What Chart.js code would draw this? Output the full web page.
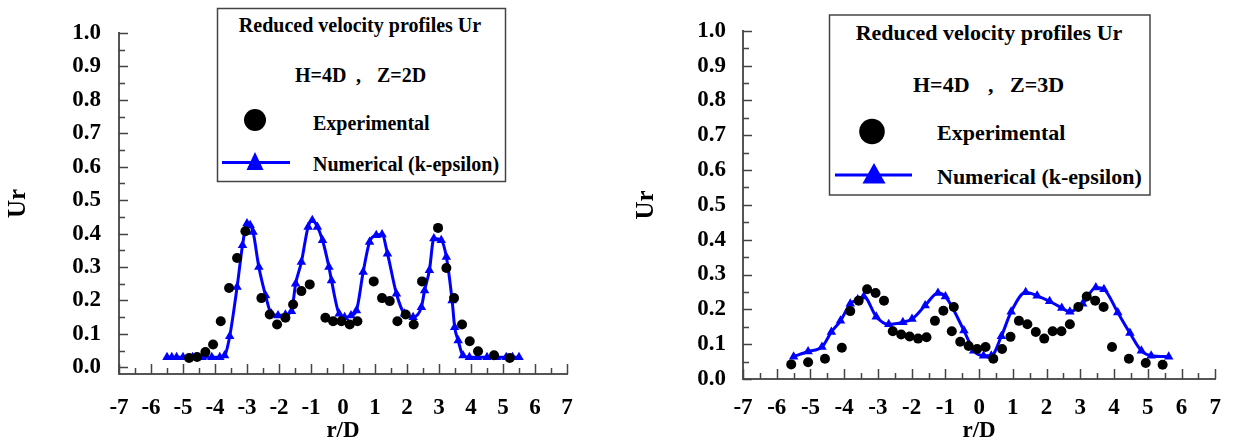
<!DOCTYPE html>
<html lang="en">
<head>
  <meta charset="UTF-8" />
  <title>Reduced velocity profiles Ur</title>
  <script src="https://cdn.jsdelivr.net/npm/chart.js"></script>
  <style>
    body { margin: 0; background: #fff; }
    .wrap { position: relative; width: 1236px; height: 443px; }
    canvas { position: absolute; top: 0; }
    #chartLeft { left: 0; }
    #chartRight { left: 618px; }
    svg.legend { position: absolute; left: 0; top: 0; pointer-events: none; }
    svg.legend text { font-family: 'Liberation Serif', 'Times New Roman', serif; font-weight: bold; fill: #000; }
  </style>
</head>
<body>
  <div class="wrap">
    <canvas id="chartLeft" width="618" height="443"></canvas>
    <canvas id="chartRight" width="618" height="443"></canvas>

    <svg class="legend" width="1236" height="443">
      <!-- left legend, Z=2D -->
      <rect x="217.5" y="8.5" width="288" height="173" fill="#fff" stroke="#444" stroke-width="1.5"/>
      <text x="360" y="32" text-anchor="middle" font-size="20">Reduced velocity profiles Ur</text>
      <text x="295" y="81.5" font-size="20">H=4D</text>
      <text x="356" y="81.5" font-size="20">,</text>
      <text x="377" y="81.5" font-size="20">Z=2D</text>
      <circle cx="255" cy="120" r="11" fill="#000"/>
      <text x="313" y="129.5" font-size="20">Experimental</text>
      <line x1="222" y1="162.5" x2="290" y2="162.5" stroke="#0000ff" stroke-width="3"/>
      <polygon points="255,152 246.5,170 263.5,170" fill="#0000ff"/>
      <text x="313" y="170.5" font-size="20">Numerical (k-epsilon)</text>

      <!-- right legend, Z=3D -->
      <rect x="829.5" y="15" width="320.5" height="180" fill="#fff" stroke="#444" stroke-width="1.5"/>
      <text x="989" y="40" text-anchor="middle" font-size="22">Reduced velocity profiles Ur</text>
      <text x="913" y="91.5" font-size="22">H=4D</text>
      <text x="988" y="91.5" font-size="22">,</text>
      <text x="1010" y="91.5" font-size="22">Z=3D</text>
      <circle cx="872" cy="131.5" r="12.8" fill="#000"/>
      <text x="937" y="140" font-size="22">Experimental</text>
      <line x1="835" y1="175" x2="912" y2="175" stroke="#0000ff" stroke-width="3"/>
      <polygon points="874,163 862.5,183.5 885.5,183.5" fill="#0000ff"/>
      <text x="937" y="183.5" font-size="22">Numerical (k-epsilon)</text>
    </svg>
  </div>

  <script>
    // ---- data ----
    // H=4D, Z=2D
    const z2ExpR = [-4.81, -4.56, -4.30, -4.06, -3.82, -3.56, -3.31, -3.05, -2.55, -2.29, -2.06, -1.80, -1.56, -1.30, -1.04,
                    -0.55, -0.31, -0.05, 0.21, 0.45, 0.96, 1.22, 1.46, 1.70, 1.96, 2.21, 2.47, 2.97, 3.23, 3.47, 3.72, 3.96, 4.22, 4.72, 5.21];
    const z2ExpU = [0.028, 0.031, 0.046, 0.068, 0.138, 0.237, 0.327, 0.407, 0.207, 0.158, 0.128, 0.148, 0.188, 0.228, 0.248,
                    0.148, 0.138, 0.138, 0.128, 0.138, 0.257, 0.207, 0.198, 0.138, 0.158, 0.128, 0.257, 0.417, 0.297, 0.207, 0.128, 0.078, 0.048, 0.036, 0.028];
    const z2NumR = [-5.5, -5.35, -5.2, -5.0, -4.7, -4.4, -4.1, -3.85, -3.7, -3.54, -3.31, -3.14, -3.0, -2.9, -2.81, -2.63, -2.42, -2.24, -2.03, -1.8,
                    -1.61, -1.48, -1.30, -1.09, -0.96, -0.8, -0.64, -0.44, -0.36, -0.12, 0.05, 0.25, 0.42, 0.63, 0.83, 1.04, 1.22, 1.39, 1.67, 1.92,
                    2.19, 2.45, 2.55, 2.70, 2.84, 3.07, 3.23, 3.41, 3.49, 3.60, 3.75, 3.95, 4.2, 4.5, 4.8, 5.1, 5.3, 5.5];
    const z2NumU = [0.03, 0.03, 0.03, 0.03, 0.03, 0.03, 0.03, 0.03, 0.035, 0.093, 0.24, 0.365, 0.43, 0.425, 0.405, 0.30, 0.215, 0.16, 0.155, 0.157,
                    0.168, 0.25, 0.315, 0.42, 0.44, 0.42, 0.38, 0.30, 0.26, 0.16, 0.15, 0.155, 0.17, 0.285, 0.375, 0.395, 0.397, 0.34, 0.22, 0.16,
                    0.15, 0.18, 0.23, 0.29, 0.385, 0.38, 0.33, 0.20, 0.12, 0.08, 0.035, 0.03, 0.03, 0.03, 0.03, 0.03, 0.03, 0.03];

    // H=4D, Z=3D
    const z3ExpR = [-5.57, -5.07, -4.57, -4.07, -3.82, -3.57, -3.32, -3.07, -2.82, -2.56, -2.31, -2.06, -1.81, -1.56, -1.31, -1.06,
                    -0.81, -0.75, -0.56, -0.31, -0.06, 0.19, 0.42, 0.68, 0.93, 1.18, 1.43, 1.68, 1.93, 2.18, 2.44, 2.69, 2.94, 3.19, 3.44, 3.69,
                    3.94, 4.44, 4.94, 5.44];
    const z3ExpU = [0.042, 0.048, 0.058, 0.09, 0.195, 0.225, 0.258, 0.247, 0.225, 0.137, 0.128, 0.122, 0.116, 0.12, 0.167, 0.196,
                    0.137, 0.207, 0.107, 0.095, 0.086, 0.092, 0.058, 0.086, 0.121, 0.167, 0.157, 0.135, 0.116, 0.137, 0.137, 0.157, 0.207, 0.237, 0.225, 0.207,
                    0.092, 0.058, 0.046, 0.041];
    const z3NumR = [-5.5, -5.07, -4.66, -4.38, -4.11, -3.82, -3.6, -3.42, -3.05, -2.68, -2.26, -1.99, -1.6, -1.22, -1.0, -0.45, -0.16, 0.13, 0.36,
                    0.66, 0.95, 1.38, 1.72, 2.09, 2.45, 2.69, 3.07, 3.46, 3.70, 4.11, 4.47, 4.81, 5.10, 5.62];
    const z3NumU = [0.064, 0.079, 0.092, 0.135, 0.167, 0.216, 0.228, 0.237, 0.179, 0.157, 0.163, 0.172, 0.211, 0.247, 0.237, 0.139, 0.081, 0.067, 0.067,
                    0.123, 0.193, 0.249, 0.239, 0.223, 0.204, 0.193, 0.216, 0.263, 0.258, 0.191, 0.132, 0.081, 0.067, 0.064];

    // axis tick labels
    const xMajorTicks = [-7, -6, -5, -4, -3, -2, -1, 0, 1, 2, 3, 4, 5, 6, 7];
    const yMajorTicks = [0.0, 0.1, 0.2, 0.3, 0.4, 0.5, 0.6, 0.7, 0.8, 0.9, 1.0];

    // ---- helpers ----
    const pairs = (xs, ys) => xs.map((x, i) => ({ x: x, y: ys[i] }));

    // majors plus a minor tick half way between each pair
    function withMinor(majors) {
      const out = [];
      majors.forEach((v, i) => {
        out.push({ value: v, major: true });
        if (i < majors.length - 1) out.push({ value: (v + majors[i + 1]) / 2, major: false });
      });
      return out;
    }

    Chart.defaults.font.family = "'Liberation Serif', 'Times New Roman', serif";
    Chart.defaults.font.weight = 'bold';
    Chart.defaults.color = '#000';

    // ticks drawn inside the plot, like the original
    const inwardTicks = {
      id: 'inwardTicks',
      beforeDatasetsDraw(chart) {
        const { ctx, chartArea, scales } = chart;
        ctx.save();
        ctx.strokeStyle = '#444';
        ctx.lineWidth = 1.5;
        ctx.beginPath();
        scales.x.ticks.forEach(t => {
          const px = Math.round(scales.x.getPixelForValue(t.value)) + 0.5;
          const len = t.major ? 10 : 6;
          ctx.moveTo(px, chartArea.bottom);
          ctx.lineTo(px, chartArea.bottom - len);
        });
        scales.y.ticks.forEach(t => {
          const py = Math.round(scales.y.getPixelForValue(t.value)) + 0.5;
          const len = t.major ? 9 : 6;
          ctx.moveTo(chartArea.left, py);
          ctx.lineTo(chartArea.left + len, py);
        });
        ctx.stroke();
        ctx.restore();
      }
    };

    function makeChart(id, cfg) {
      const fontSize = cfg.fontSize;
      return new Chart(document.getElementById(id), {
        type: 'scatter',
        data: {
          datasets: [
            {
              label: 'Experimental',
              data: pairs(cfg.expR, cfg.expU),
              pointStyle: 'circle',
              pointRadius: 5,
              backgroundColor: '#000',
              borderWidth: 0
            },
            {
              label: 'Numerical (k-epsilon)',
              data: pairs(cfg.numR, cfg.numU),
              showLine: true,
              cubicInterpolationMode: 'monotone',
              borderColor: '#0000ff',
              borderWidth: 3,
              pointStyle: 'triangle',
              pointRadius: 5.5,
              backgroundColor: '#0000ff',
              pointBorderWidth: 0
            }
          ]
        },
        options: {
          responsive: false,
          animation: false,
          devicePixelRatio: 1,
          layout: { padding: { top: cfg.top, right: cfg.right, left: 0, bottom: 0 } },
          plugins: { legend: { display: false }, tooltip: { enabled: false } },
          scales: {
            x: {
              type: 'linear',
              min: -7,
              max: 7,
              afterBuildTicks: s => { s.ticks = withMinor(xMajorTicks); },
              afterFit: s => { s.height = cfg.xHeight; },
              grid: { display: false, drawTicks: false },
              border: { color: '#555', width: 2 },
              ticks: {
                autoSkip: false,
                maxRotation: 0,
                padding: cfg.xPad,
                font: { size: fontSize, weight: 'bold' },
                callback: v => Number.isInteger(v) ? String(v) : ''
              },
              title: {
                display: true,
                text: 'r/D',
                font: { size: fontSize, weight: 'bold', lineHeight: 1 },
                padding: { top: 0, bottom: 0 }
              }
            },
            y: {
              type: 'linear',
              min: cfg.yMin,
              max: 1.0,
              afterBuildTicks: s => { s.ticks = withMinor(yMajorTicks); },
              afterFit: s => { s.width = cfg.yWidth; },
              grid: { display: false, drawTicks: false },
              border: { color: '#555', width: 2 },
              ticks: {
                autoSkip: false,
                padding: cfg.yPad,
                font: { size: fontSize, weight: 'bold' },
                callback: v => Math.abs(v * 10 - Math.round(v * 10)) < 1e-6 ? v.toFixed(1) : ''
              },
              title: {
                display: true,
                text: 'Ur',
                font: { size: fontSize + 2, weight: 'bold', lineHeight: 1.2 },
                padding: { top: cfg.titlePad, bottom: 0 }
              }
            }
          }
        },
        plugins: [inwardTicks]
      });
    }

    makeChart('chartLeft', {
      expR: z2ExpR, expU: z2ExpU, numR: z2NumR, numU: z2NumU,
      fontSize: 23, yMin: -0.02,
      top: 33, right: 51, xHeight: 69, yWidth: 119,
      xPad: 20, yPad: 18, titlePad: 4
    });

    makeChart('chartRight', {
      expR: z3ExpR, expU: z3ExpU, numR: z3NumR, numU: z3NumU,
      fontSize: 23, yMin: 0,
      top: 21, right: 8, xHeight: 64, yWidth: 125,
      xPad: 15, yPad: 17, titlePad: 14
    });
  </script>
</body>
</html>
